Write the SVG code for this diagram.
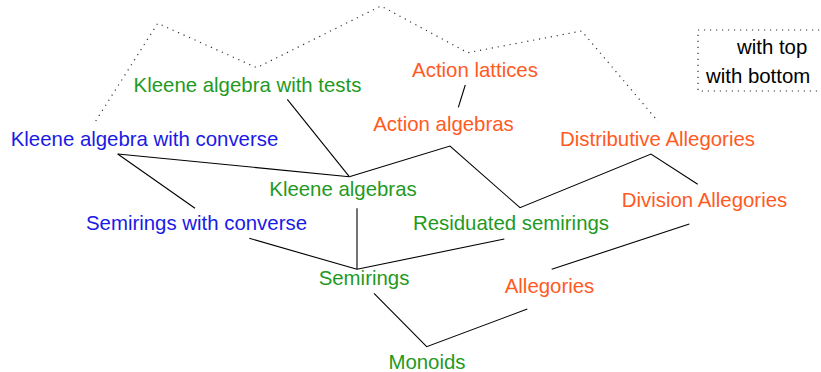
<svg xmlns="http://www.w3.org/2000/svg" width="821" height="372" viewBox="0 0 821 372">
<style>
text{font-family:"Liberation Sans",Arial,Helvetica,sans-serif;font-size:20.4px;text-anchor:middle}
.g{fill:#1f9a1f}.o{fill:#ff5a1f}.b{fill:#1a1ae6}.k{fill:#000;text-anchor:start}
.ln{fill:none;stroke:#000;stroke-width:1.1}
.dot{fill:none;stroke:#333;stroke-width:1.2;stroke-dasharray:1.2 4.8}
</style>
<rect width="821" height="372" fill="#fff"/>
<g id="connectors">
<polyline class="dot" points="95.7,121 157.7,23.3 256.7,67.7 381,6 467.7,52.7 581.7,31 658.3,121.7"/>
<line class="ln" x1="117.7" y1="154" x2="349.3" y2="176.7"/>
<line class="ln" x1="117.7" y1="154" x2="195" y2="208.3"/>
<line class="ln" x1="287.3" y1="99.3" x2="349.3" y2="176.7"/>
<polyline class="ln" points="697.7,184.3 651,154 520,207.7 450,146 349.3,176.7"/>
<line class="ln" x1="465.3" y1="85" x2="458.3" y2="107.3"/>
<line class="ln" x1="357" y1="208.3" x2="357" y2="269.3"/>
<line class="ln" x1="249.3" y1="238.3" x2="357" y2="269.3"/>
<line class="ln" x1="504.3" y1="239" x2="357" y2="269.3"/>
<line class="ln" x1="689.3" y1="224" x2="551.7" y2="269.3"/>
<polyline class="ln" points="374,293.3 426.7,346.7 527.3,309"/>
</g>
<g id="legend">
<rect class="dot" x="698" y="30" width="140" height="61"/>
<text class="k" x="737" y="54">with top</text>
<text class="k" x="706" y="83">with bottom</text>
</g>
<g id="n-kat"><text class="g" x="247.5" y="92">Kleene algebra with tests</text></g>
<g id="n-al"><text class="o" x="475" y="77">Action lattices</text></g>
<g id="n-aa"><text class="o" x="443.5" y="131">Action algebras</text></g>
<g id="n-kac"><text class="b" x="144.5" y="146">Kleene algebra with converse</text></g>
<g id="n-da"><text class="o" x="657.5" y="146">Distributive Allegories</text></g>
<g id="n-ka"><text class="g" x="343" y="196">Kleene algebras</text></g>
<g id="n-diva"><text class="o" x="704.5" y="207">Division Allegories</text></g>
<g id="n-sc"><text class="b" x="196.5" y="230">Semirings with converse</text></g>
<g id="n-rs"><text class="g" x="511" y="230">Residuated semirings</text></g>
<g id="n-s"><text class="g" x="364" y="285">Semirings</text></g>
<g id="n-a"><text class="o" x="549.5" y="293">Allegories</text></g>
<g id="n-m"><text class="g" x="427" y="369">Monoids</text></g>
</svg>
